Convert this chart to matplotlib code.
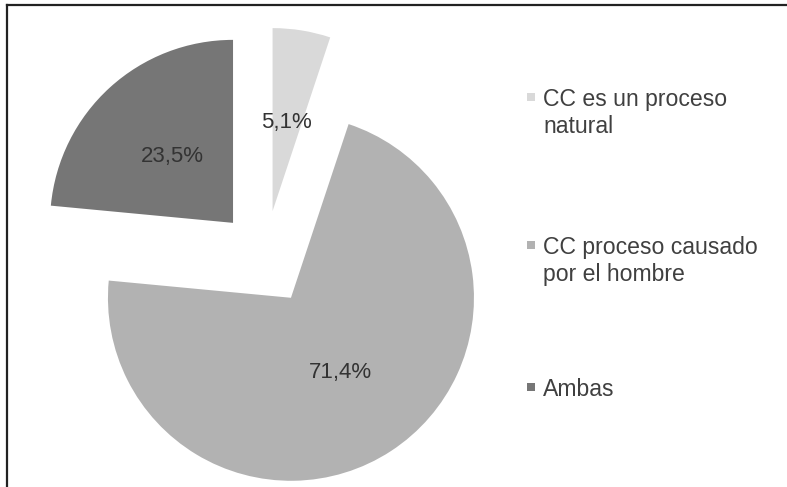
import matplotlib
matplotlib.use('Agg')
import matplotlib.pyplot as plt
from matplotlib.patches import Rectangle
from matplotlib.lines import Line2D

plt.rcParams['font.family'] = ['Liberation Sans', 'DejaVu Sans']

# datos
categorias = ["CC es un proceso\nnatural", "CC proceso causado\npor el hombre", "Ambas"]
porcentajes = [5.1, 71.4, 23.5]
colores = ["#d9d9d9", "#b2b2b2", "#767676"]
etiquetas = ["5,1%", "71,4%", "23,5%"]

W, H = 787, 487
fig = plt.figure(figsize=(W / 100, H / 100), dpi=100)
ax = fig.add_axes([0, 0, 1, 1])

radio = 183
sep = 47.5
wedges, textos, auto = ax.pie(
    porcentajes, colors=colores, startangle=90, counterclock=False,
    center=(265, H - 258), radius=radio, explode=[sep] * 3,
    autopct='%1.1f%%', pctdistance=0.49,
    wedgeprops=dict(linewidth=0), frame=True)
for t, lab in zip(auto, etiquetas):
    t.set_text(lab)
    t.set_fontsize(16)
    t.set_color('#333333')
ax.set_xlim(0, W)
ax.set_ylim(0, H)
ax.set_aspect('equal')
ax.axis('off')

# leyenda manual (cuadro alineado con la primera línea)
ley_y = [97, 245, 387]
for cat, col, y in zip(categorias, colores, ley_y):
    fig.patches.append(Rectangle((527 / W, (H - y - 4) / H), 8 / W, 8 / H,
                                 transform=fig.transFigure, facecolor=col,
                                 edgecolor='none'))
    fig.text(543 / W, (H - y + 9) / H, cat, fontsize=16.6, color='#404040',
             va='top', ha='left', linespacing=1.22)

# marco (solo arriba e izquierda visibles)
fig.add_artist(Line2D([7 / W, 1], [1 - 5 / H, 1 - 5 / H], transform=fig.transFigure,
                      color='#222222', lw=1.6))
fig.add_artist(Line2D([7 / W, 7 / W], [0, 1 - 5 / H], transform=fig.transFigure,
                      color='#222222', lw=1.6))

fig.savefig('out.png', dpi=100, facecolor='white')
